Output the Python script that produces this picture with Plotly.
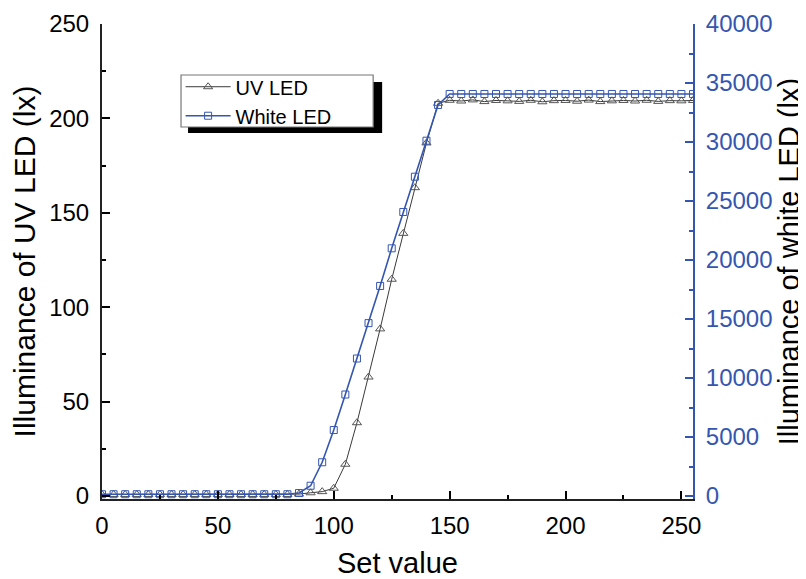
import plotly.graph_objects as go

set_values = list(range(0, 256, 5))

uv_lux = [0.8, 0.8, 0.8, 0.8, 0.8, 0.8, 0.8, 0.8, 0.8, 0.8,
          0.8, 0.8, 0.8, 0.8, 0.8, 0.8, 0.8, 1.0,
          1.7, 2.3, 4.1, 16.8, 38.8, 63.0, 88.5, 114.8, 139.1, 163.3, 187.0, 208.0,
          209.6, 209.2, 209.8, 208.9, 209.5, 209.3, 209.0, 209.6, 208.8, 209.4,
          209.5, 209.1, 209.7, 208.9, 209.3, 209.5, 209.2, 209.6, 209.0, 209.4,
          209.3, 209.5]

white_lux = [150, 150, 150, 150, 150, 150, 150, 150, 150, 150,
             150, 150, 150, 150, 150, 150, 150, 250,
             870, 2860, 5590, 8600, 11650, 14650, 17800, 20990, 24070, 27060, 30110, 33140,
             34070, 34070, 34070, 34070, 34070, 34070, 34070, 34070, 34070, 34070,
             34070, 34070, 34070, 34070, 34070, 34070, 34070, 34070, 34070, 34070,
             34070, 34070]

uv_ticks = [0, 50, 100, 150, 200, 250]
white_ticks = [0, 5000, 10000, 15000, 20000, 25000, 30000, 35000, 40000]
x_ticks = [0, 50, 100, 150, 200, 250]

BLUE = "#3556b0"
GREY = "#555555"
FONT = "Liberation Sans, Arial, sans-serif"

fig = go.Figure()
fig.add_trace(go.Scatter(
    x=set_values, y=uv_lux, name="UV LED", mode="lines+markers",
    line=dict(color="#3a3a3a", width=1),
    marker=dict(symbol="triangle-up-open", size=8, color=GREY, line=dict(width=1)),
))
fig.add_trace(go.Scatter(
    x=set_values, y=white_lux, name="White LED", mode="lines+markers", yaxis="y2",
    line=dict(color=BLUE, width=1.6),
    marker=dict(symbol="square-open", size=7, color=BLUE, line=dict(width=1)),
))

# legend box with drop shadow
fig.add_shape(type="rect", xref="paper", yref="paper",
              x0=0.1456, x1=0.474, y0=0.7705, y1=0.8779,
              fillcolor="black", line=dict(width=0), layer="below")
fig.add_shape(type="rect", xref="paper", yref="paper",
              x0=0.1337, x1=0.4588, y0=0.7832, y1=0.8926,
              fillcolor="white", line=dict(color="#777777", width=1.2), layer="below")

fig.update_layout(
    width=798, height=571,
    margin=dict(l=94, r=113, t=16, b=80, autoexpand=False),
    paper_bgcolor="white", plot_bgcolor="white",
    font=dict(family=FONT, size=24, color="black"),
    showlegend=True,
    legend=dict(x=0.133, y=0.909, xanchor="left", yanchor="top",
                bgcolor="rgba(0,0,0,0)", borderwidth=0,
                font=dict(size=20, family=FONT), itemwidth=45,
                tracegroupgap=0),
    xaxis=dict(range=[0, 255], tickvals=x_ticks, ticks="inside", ticklen=8,
               tickwidth=1.5, tickcolor="black", automargin=False,
               minor=dict(dtick=25, ticks="inside", ticklen=4, tickcolor="black", tickwidth=1.5),
               showline=True, linecolor="#222222", linewidth=2, showgrid=False,
               zeroline=False, tickfont=dict(size=24), ticklabelstandoff=4,
               title=dict(text="Set value", font=dict(size=29), standoff=16)),
    xaxis2=dict(range=[0, 255], overlaying="x", side="top", matches="x",
                tickvals=x_ticks, ticks="inside", ticklen=8, tickwidth=1.5, tickcolor=BLUE,
                minor=dict(dtick=25, ticks="inside", ticklen=4, tickcolor=BLUE, tickwidth=1.5),
                showline=True, linecolor=BLUE, linewidth=2, showgrid=False, automargin=False,
                zeroline=False, showticklabels=False),
    yaxis=dict(range=[-1.6, 250], tickvals=uv_ticks, ticks="inside", ticklen=8,
               tickwidth=1.5, tickcolor="black", automargin=False,
               minor=dict(dtick=25, ticks="inside", ticklen=4, tickcolor="black", tickwidth=1.5),
               showline=True, linecolor="#222222", linewidth=2, showgrid=False,
               zeroline=False, tickfont=dict(size=24), ticklabelstandoff=6,
               title=dict(text="Illuminance of UV LED (lx)", font=dict(size=30), standoff=8)),
    yaxis2=dict(range=[-254, 40000], overlaying="y", side="right", tickvals=white_ticks,
                tickformat="d", automargin=False,
                ticks="inside", ticklen=8, tickwidth=1.5, tickcolor=BLUE,
                minor=dict(dtick=2500, ticks="inside", ticklen=4, tickcolor=BLUE, tickwidth=1.5),
                showline=True, linecolor=BLUE, linewidth=2, showgrid=False,
                zeroline=False, tickfont=dict(size=24, color=BLUE), ticklabelstandoff=6,
                title=dict(text="Illuminance of white LED (lx)", font=dict(size=29, color="black"),
                           standoff=3)),
)

fig.write_html("out.html")
